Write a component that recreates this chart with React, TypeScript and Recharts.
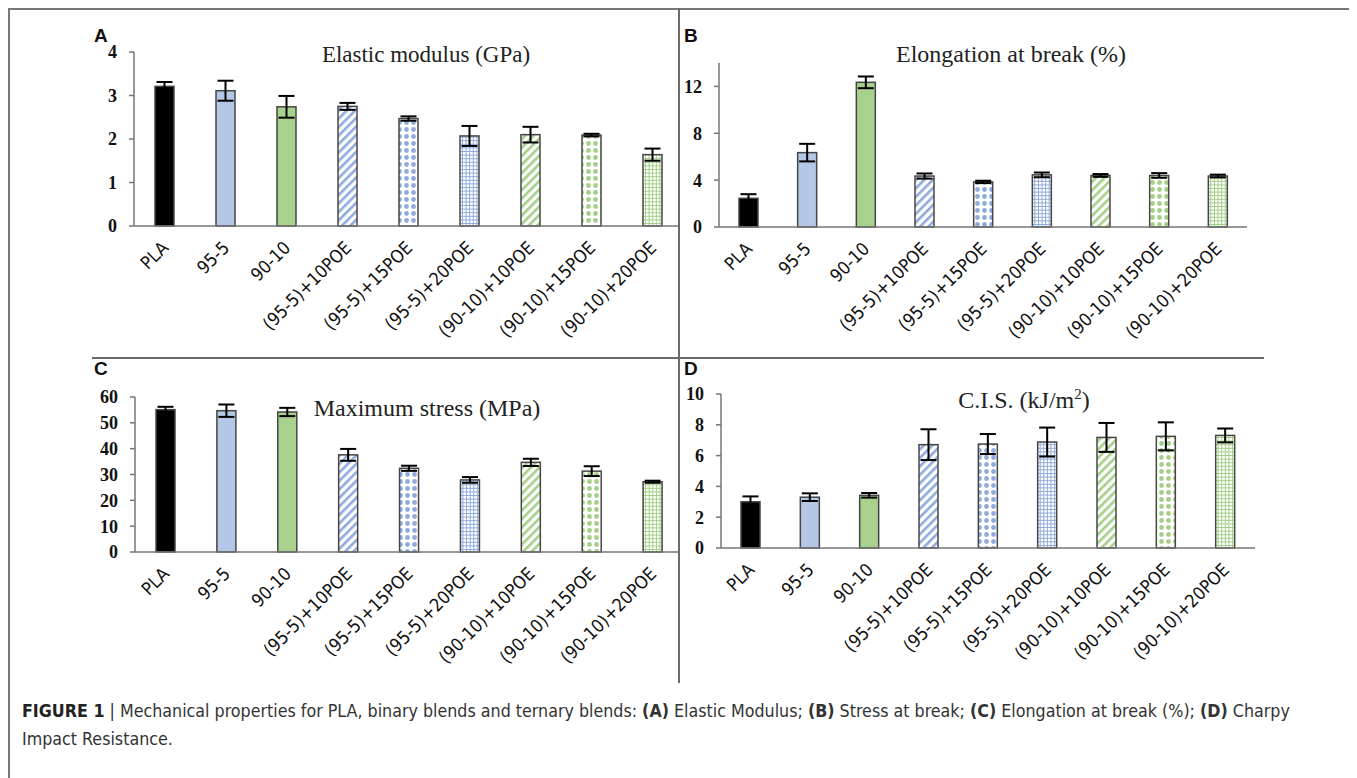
import React from 'react';
import { BarChart, Bar, XAxis, YAxis, ErrorBar } from 'recharts';

const categories = [
  'PLA',
  '95-5',
  '90-10',
  '(95-5)+10POE',
  '(95-5)+15POE',
  '(95-5)+20POE',
  '(90-10)+10POE',
  '(90-10)+15POE',
  '(90-10)+20POE',
];

const modulusValues = [3.21, 3.11, 2.74, 2.75, 2.47, 2.07, 2.1, 2.09, 1.64];
const modulusErrors = [0.1, 0.23, 0.25, 0.08, 0.05, 0.23, 0.18, 0.03, 0.14];
const modulusTicks = [0, 1, 2, 3, 4];

const elongationValues = [2.45, 6.35, 12.35, 4.35, 3.85, 4.45, 4.4, 4.4, 4.35];
const elongationErrors = [0.35, 0.75, 0.5, 0.22, 0.1, 0.2, 0.12, 0.2, 0.12];
const elongationTicks = [0, 4, 8, 12];

const stressValues = [55.1, 54.7, 54.2, 37.6, 32.4, 27.9, 34.7, 31.3, 27.2];
const stressErrors = [1.1, 2.4, 1.6, 2.3, 1.0, 1.1, 1.4, 1.9, 0.4];
const stressTicks = [0, 10, 20, 30, 40, 50, 60];

const cisValues = [3.0, 3.3, 3.42, 6.71, 6.75, 6.88, 7.18, 7.25, 7.31];
const cisErrors = [0.35, 0.25, 0.15, 1.0, 0.65, 0.94, 0.94, 0.91, 0.45];
const cisTicks = [0, 2, 4, 6, 8, 10];

const BLUE_SOLID = '#b4c7e7';
const BLUE_LINE = '#8faadc';
const GREEN_SOLID = '#a9d18e';
const GREEN_LINE = '#a3cf86';
const AXIS = '#767676';

// fill style for each category, same order as categories
const barStyles = [
  { kind: 'solid', color: '#000000' },
  { kind: 'solid', color: BLUE_SOLID },
  { kind: 'solid', color: GREEN_SOLID },
  { kind: 'stripe', color: BLUE_LINE, pattern: 'StripeBlue' },
  { kind: 'dot', color: BLUE_LINE, pattern: 'DotBlue' },
  { kind: 'grid', color: BLUE_LINE },
  { kind: 'stripe', color: GREEN_LINE, pattern: 'StripeGreen' },
  { kind: 'dot', color: GREEN_LINE, pattern: 'DotGreen' },
  { kind: 'grid', color: GREEN_LINE },
];

const Patterns = ({ id }: { id: string }) => {
  const make = (name: string, color: string) => (
    <React.Fragment key={name}>
      <pattern id={`${id}Stripe${name}`} width={6} height={6} patternUnits="userSpaceOnUse" patternTransform="rotate(45)">
        <rect width={6} height={6} fill="#fff" />
        <rect x={0} y={0} width={2.6} height={6} fill={color} />
      </pattern>
      <pattern id={`${id}Dot${name}`} width={7} height={7} patternUnits="userSpaceOnUse">
        <rect width={7} height={7} fill="#fff" />
        <circle cx={3.5} cy={3.5} r={2.4} fill={color} />
      </pattern>
    </React.Fragment>
  );
  return (
    <defs>
      {make('Blue', BLUE_LINE)}
      {make('Green', GREEN_LINE)}
    </defs>
  );
};

const BarShape = (props: any) => {
  const { x, y, width, height, patternId } = props;
  const idx = typeof props.index === 'number' ? props.index : categories.indexOf(props.payload?.name);
  const s = barStyles[idx] || barStyles[0];
  if (!(height > 0)) return null;
  const lines: React.ReactNode[] = [];
  let fill = s.color;
  if (s.kind === 'grid') {
    fill = '#fff';
    for (let gx = x + 2.5; gx < x + width - 0.5; gx += 3.6) {
      lines.push(<line key={`v${gx}`} x1={gx} y1={y} x2={gx} y2={y + height} stroke={s.color} strokeWidth={1} />);
    }
    for (let gy = y + height - 2.5; gy > y + 0.5; gy -= 3.6) {
      lines.push(<line key={`h${gy}`} x1={x} y1={gy} x2={x + width} y2={gy} stroke={s.color} strokeWidth={1} />);
    }
  } else if (s.kind !== 'solid') {
    fill = `url(#${patternId}${s.pattern})`;
  }
  return (
    <g>
      <rect x={x} y={y} width={width} height={height} fill={fill} />
      {lines}
      <rect x={x} y={y} width={width} height={height} fill="none" stroke="#454545" strokeWidth={1.5} />
    </g>
  );
};

const CategoryTick = (props: any) => {
  const { x, y, payload } = props;
  return (
    <g transform={`translate(${x + 5},${y + 21})`}>
      <text
        transform="rotate(-45)"
        textAnchor="end"
        fontFamily="'DejaVu Sans Condensed', 'DejaVu Sans', sans-serif"
        fontSize={18}
        fill="#111"
      >
        {payload.value}
      </text>
    </g>
  );
};

type PanelProps = {
  id: string;
  left: number;
  top: number;
  width: number;
  clipWidth: number;
  plotHeight: number;
  values: number[];
  errors: number[];
  ticks: number[];
  max: number;
};

const Panel = ({ id, left, top, width, clipWidth, plotHeight, values, errors, ticks, max }: PanelProps) => {
  const data = categories.map((name, i) => ({ name, value: values[i], err: errors[i] }));
  return (
    <div style={{ position: 'absolute', left, top, width: clipWidth, height: plotHeight + 150, overflow: 'hidden' }}>
      <BarChart width={width} height={10 + plotHeight + 140} data={data} margin={{ top: 10, right: 0, left: 0, bottom: 0 }}>
        <Patterns id={id} />
        <XAxis
          dataKey="name"
          interval={0}
          height={140}
          tickLine={false}
          tickSize={0}
          axisLine={{ stroke: AXIS, strokeWidth: 1.5 }}
          tick={<CategoryTick />}
        />
        <YAxis
          width={60}
          domain={[0, max]}
          ticks={ticks}
          interval={0}
          tickSize={5}
          tickMargin={12}
          axisLine={{ stroke: AXIS, strokeWidth: 1.5 }}
          tickLine={{ stroke: AXIS, strokeWidth: 1.5 }}
          tick={{ fontFamily: "'Liberation Serif', serif", fontWeight: 700, fontSize: 18, fill: '#111' }}
        />
        <Bar
          dataKey="value"
          barSize={19}
          isAnimationActive={false}
          shape={(p: any) => <BarShape {...p} patternId={id} />}
        >
          <ErrorBar dataKey="err" width={8} strokeWidth={2} stroke="#000" direction="y" />
        </Bar>
      </BarChart>
    </div>
  );
};

const serif = "'Liberation Serif', 'Times New Roman', serif";
const sans = "'Liberation Sans', Arial, sans-serif";
const captionFont = "'DejaVu Sans Condensed', 'DejaVu Sans', sans-serif";

export default function App() {
  // all positions below are relative to the figure box at page (8, 8)
  return (
    <div style={{ position: 'relative', width: 1349, height: 772, background: '#fff' }}>
      <div style={{ position: 'absolute', left: 0, top: 0, width: 1349, height: 772, border: '2px solid #777', boxSizing: 'border-box' }} />
      <div style={{ position: 'absolute', left: 670, top: 0, width: 2, height: 675, background: '#6a6a6a' }} />
      <div style={{ position: 'absolute', left: 84, top: 349, width: 1172, height: 2, background: '#6a6a6a' }} />

      <Panel id="pa" left={66} top={34} width={609} clipWidth={604} plotHeight={174} values={modulusValues} errors={modulusErrors} ticks={modulusTicks} max={4} />
      <Panel id="pb" left={651} top={45} width={588} clipWidth={600} plotHeight={164} values={elongationValues} errors={elongationErrors} ticks={elongationTicks} max={14} />
      <Panel id="pc" left={67} top={379} width={608} clipWidth={603} plotHeight={155} values={stressValues} errors={stressErrors} ticks={stressTicks} max={60} />
      <Panel id="pd" left={653} top={376} width={594} clipWidth={600} plotHeight={154} values={cisValues} errors={cisErrors} ticks={cisTicks} max={10} />

      <svg width={1349} height={772} style={{ position: 'absolute', left: 0, top: 0, pointerEvents: 'none' }}>
        <text x={86} y={34} fontFamily={sans} fontWeight={700} fontSize={19} fill="#111">A</text>
        <text x={676} y={34} fontFamily={sans} fontWeight={700} fontSize={19} fill="#111">B</text>
        <text x={86} y={367} fontFamily={sans} fontWeight={700} fontSize={19} fill="#111">C</text>
        <text x={676} y={367} fontFamily={sans} fontWeight={700} fontSize={19} fill="#111">D</text>

        <text x={418} y={54} textAnchor="middle" fontFamily={serif} fontSize={23} fill="#222">Elastic modulus (GPa)</text>
        <text x={1003} y={54} textAnchor="middle" fontFamily={serif} fontSize={24} fill="#222">Elongation at break (%)</text>
        <text x={419} y={408} textAnchor="middle" fontFamily={serif} fontSize={24} fill="#222">Maximum stress (MPa)</text>
        <text x={1016} y={400} textAnchor="middle" fontFamily={serif} fontSize={24} fill="#222">
          C.I.S. (kJ/m<tspan dy={-9} fontSize={15}>2</tspan><tspan dy={9}>)</tspan>
        </text>

        <text x={14} y={709} fontFamily={captionFont} fontSize={17.7} fill="#333">
          <tspan fontWeight={700} fill="#222">FIGURE 1</tspan>
          <tspan> | Mechanical properties for PLA, binary blends and ternary blends: </tspan>
          <tspan fontWeight={700}>(A)</tspan>
          <tspan> Elastic Modulus; </tspan>
          <tspan fontWeight={700}>(B)</tspan>
          <tspan> Stress at break; </tspan>
          <tspan fontWeight={700}>(C)</tspan>
          <tspan> Elongation at break (%); </tspan>
          <tspan fontWeight={700}>(D)</tspan>
          <tspan> Charpy</tspan>
        </text>
        <text x={14} y={737} fontFamily={captionFont} fontSize={17.7} fill="#333">
          Impact Resistance.
        </text>
      </svg>
    </div>
  );
}
